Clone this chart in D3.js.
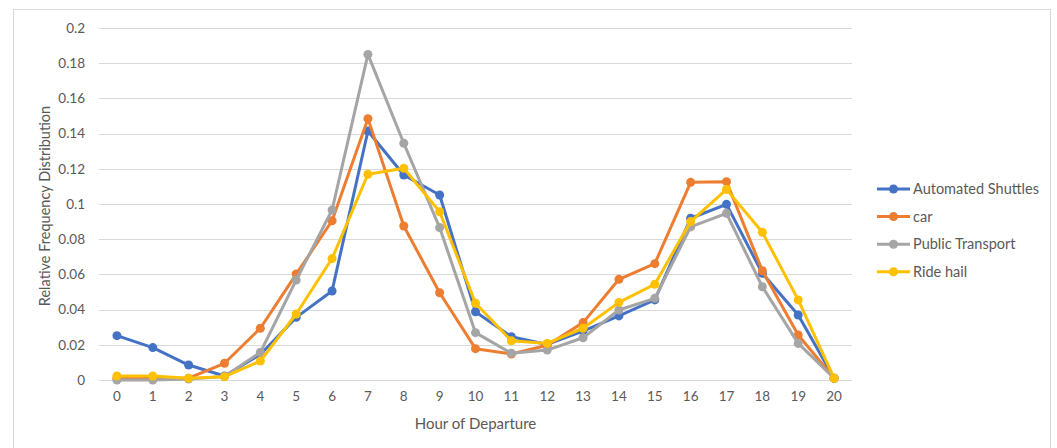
<!DOCTYPE html>
<html>
<head>
<meta charset="utf-8">
<script src="https://cdn.jsdelivr.net/npm/d3@7"></script>
<style>
  body { margin: 0; background: #fff; }
  svg text { font-family: Lato, "Liberation Sans", sans-serif; fill: #595959; }
</style>
</head>
<body>
<div id="chart"></div>
<script>
const hours = d3.range(0, 21);
const yTicks = [0, 0.02, 0.04, 0.06, 0.08, 0.1, 0.12, 0.14, 0.16, 0.18, 0.2];
const seriesNames = ["Automated Shuttles", "car", "Public Transport", "Ride hail"];
const seriesColors = ["#4472C4", "#ED7D31", "#A5A5A5", "#FFC000"];

const shuttles = [0.0252, 0.0184, 0.0085, 0.0023, 0.0145, 0.0356, 0.0506, 0.1415, 0.1165, 0.1051, 0.0388,
  0.0246, 0.0202, 0.0278, 0.0364, 0.0455, 0.0919, 0.0998, 0.0606, 0.0369, 0.001];
const car = [0.001, 0.001, 0.001, 0.0095, 0.0294, 0.0602, 0.0905, 0.1485, 0.0875, 0.0496, 0.0178,
  0.0148, 0.0197, 0.0326, 0.0572, 0.0661, 0.1123, 0.1127, 0.0621, 0.0256, 0.001];
const publicTransport = [0.0, 0.0, 0.0005, 0.002, 0.0157, 0.0568, 0.0966, 0.185, 0.1345, 0.0866, 0.0269,
  0.0152, 0.017, 0.024, 0.0398, 0.0464, 0.087, 0.0947, 0.053, 0.0208, 0.001];
const rideHail = [0.0023, 0.0023, 0.001, 0.0019, 0.0108, 0.0375, 0.069, 0.1169, 0.1203, 0.0956, 0.0436,
  0.0223, 0.0208, 0.0294, 0.0441, 0.0544, 0.09, 0.1083, 0.0839, 0.0455, 0.001];
const seriesValues = [shuttles, car, publicTransport, rideHail];

const width = 1057, height = 448;
const plot = { left: 99, right: 852, top: 28, bottom: 380 };

const svg = d3.select("#chart").append("svg")
  .attr("width", width).attr("height", height);

// chart frame
svg.append("rect")
  .attr("x", 13.5).attr("y", 9.5)
  .attr("width", 1037).attr("height", 460)
  .attr("fill", "#fff").attr("stroke", "#d9d9d9").attr("stroke-width", 1);

const x = d3.scaleBand().domain(hours).range([plot.left, plot.right]);
const y = d3.scaleLinear().domain([0, 0.2]).range([plot.bottom, plot.top]);

// gridlines
svg.append("g")
  .selectAll("line")
  .data(yTicks)
  .join("line")
  .attr("x1", plot.left).attr("x2", plot.right)
  .attr("y1", d => Math.round(y(d)) + 0.5).attr("y2", d => Math.round(y(d)) + 0.5)
  .attr("stroke", "#d9d9d9").attr("stroke-width", 1);

// y axis labels
const yAxis = svg.append("g")
  .attr("transform", `translate(${plot.left}, 0)`)
  .call(d3.axisLeft(y).tickValues(yTicks).tickFormat(d => String(+d.toFixed(2))).tickSize(0).tickPadding(14));
yAxis.select(".domain").remove();
yAxis.selectAll("text").style("font-size", "13.5px").attr("fill", "#595959");

// x axis labels
const xAxis = svg.append("g")
  .attr("transform", `translate(0, ${plot.bottom})`)
  .call(d3.axisBottom(x).tickSize(0).tickPadding(11));
xAxis.select(".domain").remove();
xAxis.selectAll("text").style("font-size", "13.5px").attr("fill", "#595959");

// axis titles
svg.append("text")
  .attr("x", (plot.left + plot.right) / 2).attr("y", 429)
  .attr("text-anchor", "middle").style("font-size", "15px")
  .text("Hour of Departure");

svg.append("text")
  .attr("transform", `translate(50, ${(plot.top + plot.bottom) / 2 + 2}) rotate(-90)`)
  .attr("text-anchor", "middle").style("font-size", "14.5px")
  .text("Relative Frequency Distribution");

// series
const line = d3.line()
  .x((d, i) => x(hours[i]) + x.bandwidth() / 2)
  .y(d => y(d));

seriesValues.forEach((vals, s) => {
  const g = svg.append("g");
  g.append("path")
    .datum(vals)
    .attr("d", line)
    .attr("fill", "none")
    .attr("stroke", seriesColors[s])
    .attr("stroke-width", 3)
    .attr("stroke-linejoin", "round");
  g.selectAll("circle")
    .data(vals)
    .join("circle")
    .attr("cx", (d, i) => x(hours[i]) + x.bandwidth() / 2)
    .attr("cy", d => y(d))
    .attr("r", 4.5)
    .attr("fill", seriesColors[s]);
});

// legend
const legend = svg.append("g").attr("transform", "translate(877, 189)");
const items = legend.selectAll("g")
  .data(seriesNames)
  .join("g")
  .attr("transform", (d, i) => `translate(0, ${i * 27.6})`);
items.append("line")
  .attr("x1", 0).attr("x2", 33)
  .attr("stroke", (d, i) => seriesColors[i]).attr("stroke-width", 3);
items.append("circle")
  .attr("cx", 16.5).attr("r", 4.5)
  .attr("fill", (d, i) => seriesColors[i]);
items.append("text")
  .attr("x", 36).attr("dy", "0.35em")
  .style("font-size", "14.5px")
  .text(d => d);
</script>
</body>
</html>
